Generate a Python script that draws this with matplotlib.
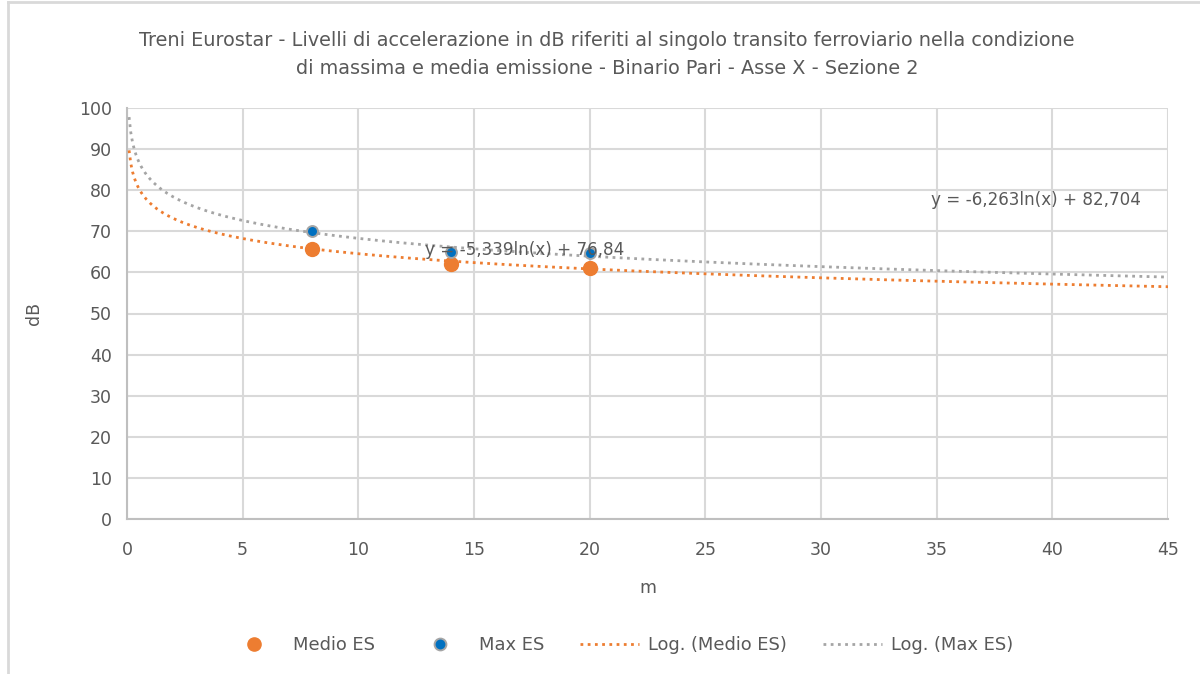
import numpy as np
import matplotlib
matplotlib.use("Agg")
import matplotlib.pyplot as plt
from matplotlib.lines import Line2D

plt.rcParams['font.family'] = ['DejaVu Sans']

# Data
distances = [8, 14, 20]
medio_es = [65.7, 62.0, 61.0]
max_es = [70.1, 64.9, 64.6]
# Trendline coefficients (y = a*ln(x) + b) as printed on chart
medio_a, medio_b = -5.339, 76.84
max_a, max_b = -6.263, 82.704
trend_x_start, trend_x_end = 0.09, 45

title = ("Treni Eurostar - Livelli di accelerazione in dB riferiti al singolo transito ferroviario nella condizione\n"
         "di massima e media emissione - Binario Pari - Asse X - Sezione 2")

ORANGE = "#ED7D31"
GRAY = "#A5A5A5"
BLUE = "#0070C0"
TXT = "#595959"
GRID = "#D9D9D9"

fig = plt.figure(figsize=(12, 6.74), dpi=100)
ax = fig.add_axes([127/1200, 1-519/674, (1168-127)/1200, (519-108)/674])

xs = np.linspace(trend_x_start, trend_x_end, 600)
ax.plot(xs, medio_a*np.log(xs)+medio_b, color=ORANGE, lw=2, ls=(0, (1, 1.6)), zorder=3)
ax.plot(xs, max_a*np.log(xs)+max_b, color=GRAY, lw=2, ls=(0, (1, 1.6)), zorder=3)

ax.scatter(distances, medio_es, s=100, color=ORANGE, zorder=4)
ax.scatter(distances, max_es, s=62, color=BLUE, edgecolor=GRAY, linewidth=1.4, zorder=5)

ax.set_xlim(0, 45)
ax.set_ylim(0, 100)
ax.set_xticks(range(0, 46, 5))
ax.set_yticks(range(0, 101, 10))
ax.grid(True, color=GRID, lw=1.5)
ax.set_axisbelow(True)
for s in ['top', 'right']:
    ax.spines[s].set_visible(False)
for s in ['left', 'bottom']:
    ax.spines[s].set_color("#BFBFBF")
    ax.spines[s].set_linewidth(1.5)
ax.tick_params(axis='y', length=0, labelsize=12.5, colors=TXT, pad=11)
ax.tick_params(axis='x', length=0, labelsize=12.5, colors=TXT, pad=16)

ax.set_xlabel("m", fontsize=12.5, color=TXT, labelpad=14)
ax.set_ylabel("dB", fontsize=12.5, color=TXT, labelpad=26)

ax.text(17.2, 65.4, "y = -5,339ln(x) + 76,84", fontsize=12.1, color=TXT, ha='center', va='center', zorder=6)
ax.text(39.3, 77.6, "y = -6,263ln(x) + 82,704", fontsize=12.1, color=TXT, ha='center', va='center', zorder=6)

fig.text(607/1200, 1-54/674, title, ha='center', va='center', fontsize=13.9, color=TXT, linespacing=1.6)

handles = [
    Line2D([], [], ls='none', marker='o', ms=9.5, color=ORANGE),
    Line2D([], [], ls='none', marker='o', ms=8.5, markerfacecolor=BLUE, markeredgecolor=GRAY, markeredgewidth=1.4),
    Line2D([], [], color=ORANGE, lw=2, ls=(0, (1, 1.6))),
    Line2D([], [], color=GRAY, lw=2, ls=(0, (1, 1.6))),
]
labels = ["Medio ES", "Max ES", "Log. (Medio ES)", "Log. (Max ES)"]
fig.legend(handles, labels, loc='center', bbox_to_anchor=(619/1200, 1-645/674), ncol=4,
           frameon=False, fontsize=12.9, labelcolor=TXT, handlelength=3.3, columnspacing=2.0, handletextpad=0.5)

# outer chart border (top and left visible)
fig.add_artist(Line2D([8/1200, 8/1200], [0, 1-2/674], transform=fig.transFigure, color=GRID, lw=2))
fig.add_artist(Line2D([8/1200, 1], [1-2/674, 1-2/674], transform=fig.transFigure, color=GRID, lw=2))

fig.savefig("out.png", dpi=100, facecolor='white')
